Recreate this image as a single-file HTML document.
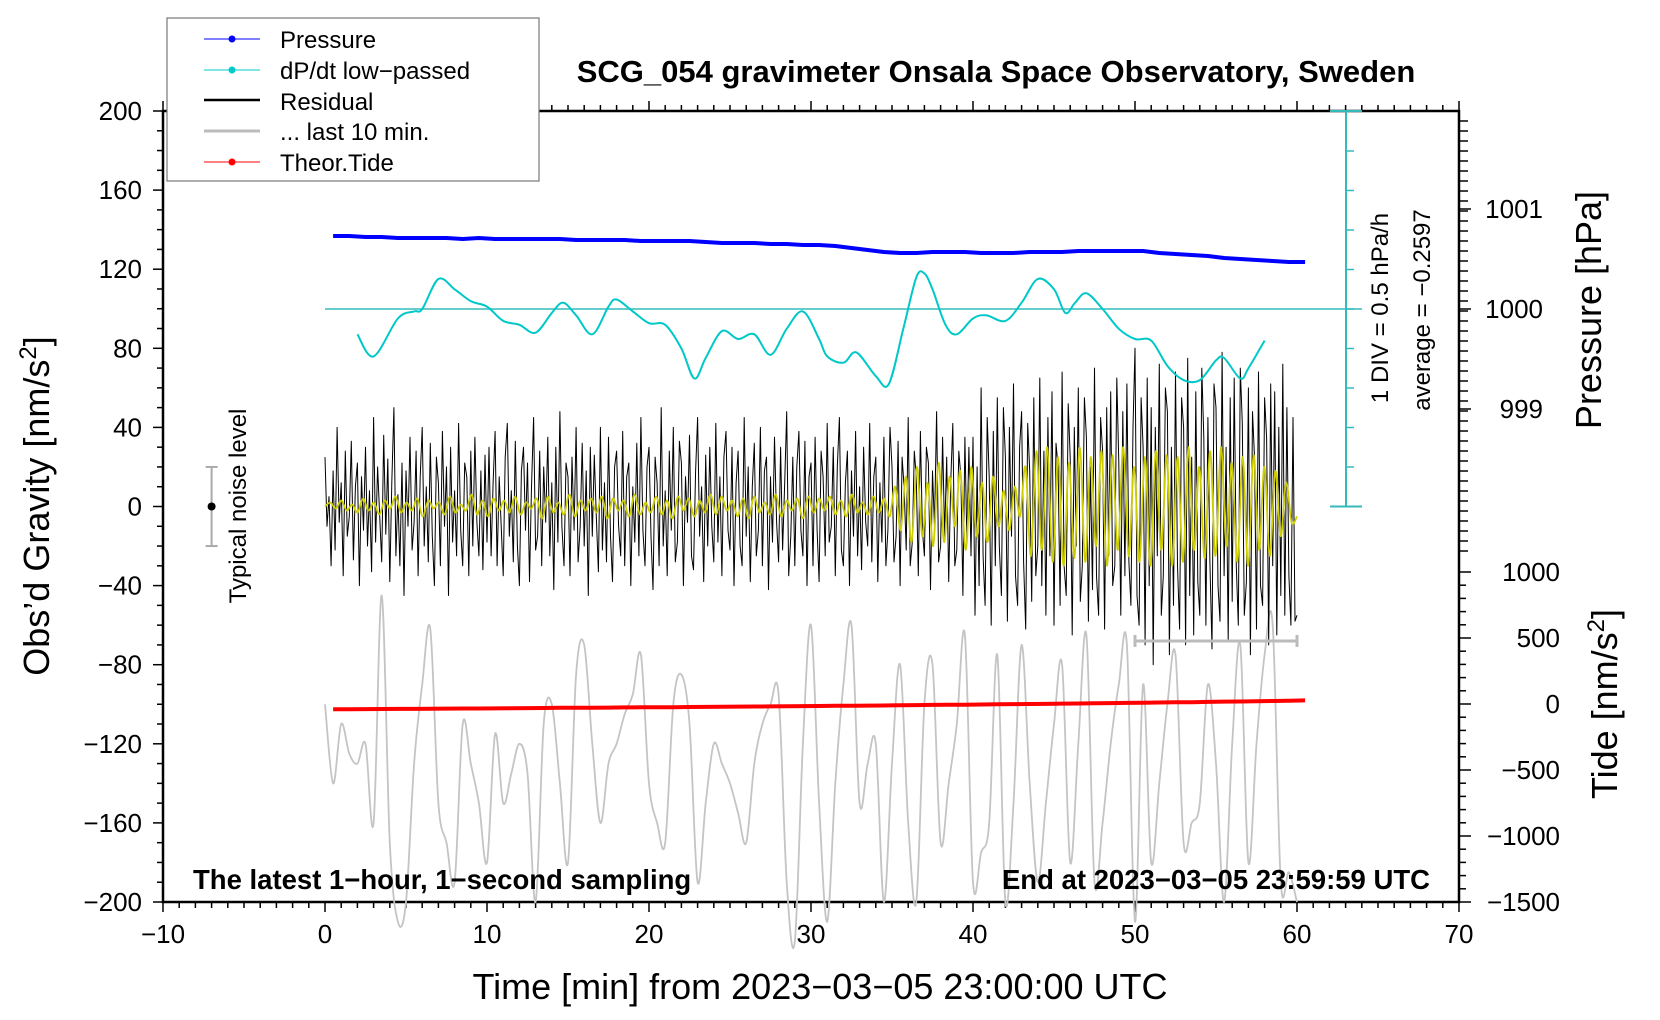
<!DOCTYPE html>
<html><head><meta charset="utf-8"><style>
body{margin:0;background:#fff;}
svg{display:block;font-family:"Liberation Sans",sans-serif;}
</style></head><body>
<svg id="chart" width="1660" height="1020" viewBox="0 0 1660 1020" xmlns="http://www.w3.org/2000/svg">
<g id="axes"></g>
<g id="series"></g>
<g id="labels">
<text x="996" y="82" font-size="31" font-weight="bold" text-anchor="middle">SCG_054 gravimeter Onsala Space Observatory, Sweden</text>
<text x="820" y="999" font-size="36" text-anchor="middle">Time [min] from 2023−03−05 23:00:00 UTC</text>
<text transform="translate(49,506) rotate(-90)" font-size="36" text-anchor="middle">Obs’d Gravity [nm/s<tspan baseline-shift="super" font-size="24">2</tspan>]</text>
<text transform="translate(1601,310) rotate(-90)" font-size="36" text-anchor="middle">Pressure [hPa]</text>
<text transform="translate(1617,704) rotate(-90)" font-size="36" text-anchor="middle">Tide [nm/s<tspan baseline-shift="super" font-size="24">2</tspan>]</text>
<text transform="translate(1388,308) rotate(-90)" font-size="24" text-anchor="middle">1 DIV = 0.5 hPa/h</text>
<text transform="translate(1430,310) rotate(-90)" font-size="24" text-anchor="middle">average = −0.2597</text>
<text transform="translate(246,506) rotate(-90)" font-size="24" text-anchor="middle">Typical noise level</text>
<text x="193" y="889" font-size="27.5" font-weight="bold">The latest 1−hour, 1−second sampling</text>
<text x="1430" y="889" font-size="27.5" font-weight="bold" text-anchor="end">End at 2023−03−05 23:59:59 UTC</text>
</g>
<g id="legend">
<rect x="167" y="18" width="372" height="163" fill="#fff" stroke="#777" stroke-width="1.2"/>
<g><line x1="204" y1="39" x2="260" y2="39" stroke="#00f" stroke-width="1"/><circle cx="232" cy="39" r="3.5" fill="#00f"/><text x="280" y="48" font-size="24">Pressure</text></g>
<g><line x1="204" y1="70" x2="260" y2="70" stroke="#00cccc" stroke-width="1"/><circle cx="232" cy="70" r="3.5" fill="#00cccc"/><text x="280" y="79" font-size="24">dP/dt low−passed</text></g>
<g><line x1="204" y1="100" x2="260" y2="100" stroke="#000" stroke-width="2.5"/><text x="280" y="110" font-size="24">Residual</text></g>
<g><line x1="204" y1="131" x2="260" y2="131" stroke="#bbb" stroke-width="3"/><text x="280" y="140" font-size="24">... last 10 min.</text></g>
<g><line x1="204" y1="162" x2="260" y2="162" stroke="#f00" stroke-width="1"/><circle cx="232" cy="162" r="3.5" fill="#f00"/><text x="280" y="171" font-size="24">Theor.Tide</text></g>
</g>
</svg>
<script>
// ---- data ----
const residual = [25,-10,5,-30,18,-22,40,-8,12,-35,28,-15,-5,33,-27,10,22,-40,15,-12,30,-20,8,-33,45,-18,20,-5,-28,36,-14,24,-38,12,50,-25,6,-30,22,-45,18,-10,35,-22,-8,28,-35,15,40,-20,10,-28,32,-15,-40,25,12,-30,38,-10,20,-45,30,-18,8,-25,42,-12,-30,22,15,-35,28,-20,35,-8,-25,18,-32,26,
-18,30,-25,12,38,-30,15,-10,-35,25,42,-15,8,-28,33,-20,-40,18,30,-12,22,-38,10,45,-22,-15,28,-30,20,-8,35,-25,12,-42,30,-18,48,-10,-30,22,15,-35,25,-12,40,-28,-10,32,-20,18,-45,30,-15,26,-5,-33,40,-22,12,-28,35,-15,-38,20,28,-10,-25,38,-30,15,22,-40,10,-18,32,-25,45,-12,-30,20,
30,-15,-42,25,12,-30,50,-20,8,-35,28,-12,40,-28,-18,33,22,-40,15,-8,36,-25,-32,18,45,-15,10,-38,26,-20,30,-10,-28,42,-18,15,-35,25,38,-12,-22,30,-40,12,28,-20,-30,45,-15,20,-38,10,32,-25,-12,40,-30,18,25,-42,15,-18,35,-8,-28,30,-22,12,48,-35,-15,25,-30,20,38,-12,-25,33,-40,15,
22,-30,35,-12,-38,28,15,-25,42,-18,-10,30,-35,20,45,-22,-30,12,28,-40,18,-15,38,-25,10,-32,30,-8,-20,42,-28,15,25,-38,12,-18,35,-30,-12,40,20,-28,-15,33,-40,25,10,-22,45,-30,-18,28,15,-35,38,-12,-25,30,22,-42,18,-10,48,-28,-20,35,-15,25,-38,12,42,-30,-22,28,15,-45,35,-18,30,-25,
35,-55,20,-40,60,-25,-50,45,15,-60,38,-30,55,-20,-45,50,25,-58,40,-15,62,-35,-50,30,48,-28,-62,42,18,-48,55,-35,-20,65,-40,28,-55,45,-25,58,-60,32,20,-50,68,-30,-45,52,25,-65,40,-20,60,-48,-30,55,35,-58,20,-42,70,-35,-55,45,28,-62,50,-25,58,-40,-30,65,22,-55,48,-35,62,-28,-50,40,
80,-45,-60,55,30,-70,65,-40,50,-80,40,-25,72,-55,-35,60,48,-75,30,-50,68,-30,-62,55,40,-70,75,-45,25,-65,58,-38,-55,70,35,-60,45,-28,-72,62,50,-40,-58,78,-35,30,-68,55,-48,65,-30,-60,70,42,-55,-38,60,-75,48,25,-62,68,-40,-50,55,35,-70,62,-30,58,-65,40,-45,72,-55,50,-35,-60,45,-58,-55];
const filtered = [0,2,-1,3,-2,1,-3,4,-2,2,-4,3,-1,5,-3,2,-2,4,-5,3,-1,2,-4,5,-3,1,-2,6,-4,3,-5,4,-2,3,-3,5,-4,2,-1,4,-6,5,-3,2,-4,6,-5,3,-2,4,-3,5,-6,4,-2,3,-5,6,-4,2,-3,5,-4,3,-6,5,-2,4,-5,3,-3,6,-4,5,-2,3,-5,4,-6,5,-3,2,-4,6,-5,3,-2,4,-6,5,-3,4,-2,5,-4,3,-5,6,-3,2,-4,5,-3,4,-5,
10,-12,15,-18,20,-15,12,-20,22,-18,15,-10,18,-22,20,-15,12,-18,15,-10,8,-12,10,-5,
20,-25,28,-22,30,-28,25,-30,22,-26,30,-28,25,-20,28,-30,26,-22,30,-25,20,-28,25,-30,28,-22,26,-30,25,-28,30,-22,20,-26,28,-25,30,-20,22,-28,25,-30,26,-22,20,-25,18,-15,12,-8,-5];
const last10 = [-100,-140,-110,-125,-130,-120,-160,-45,-170,-210,-200,-130,-90,-62,-150,-170,-190,-110,-130,-150,-180,-115,-150,-135,-120,-135,-200,-110,-100,-140,-180,-85,-70,-120,-160,-130,-120,-105,-95,-75,-140,-160,-170,-100,-85,-110,-190,-150,-120,-130,-140,-155,-170,-130,-110,-100,-95,-190,-220,-120,-60,-150,-210,-140,-90,-60,-150,-130,-120,-200,-130,-80,-160,-200,-100,-80,-170,-140,-110,-65,-190,-175,-160,-75,-200,-150,-70,-140,-190,-150,-110,-80,-180,-120,-65,-190,-160,-120,-90,-70,-210,-90,-180,-140,-100,-75,-170,-160,-150,-90,-130,-200,-120,-70,-180,-120,-75,-60,-190,-185,-200];
const pressureHPa = [1000.73,1000.73,1000.72,1000.72,1000.71,1000.71,1000.71,1000.71,1000.70,1000.71,1000.70,1000.70,1000.70,1000.70,1000.70,1000.69,1000.69,1000.69,1000.69,1000.68,1000.68,1000.68,1000.68,1000.67,1000.66,1000.66,1000.66,1000.65,1000.65,1000.64,1000.64,1000.63,1000.61,1000.59,1000.57,1000.56,1000.56,1000.57,1000.57,1000.57,1000.56,1000.56,1000.56,1000.57,1000.57,1000.57,1000.58,1000.58,1000.58,1000.58,1000.58,1000.56,1000.55,1000.54,1000.53,1000.51,1000.50,1000.49,1000.48,1000.47,1000.47];
const dpdtTimes = [2,3,4.5,5.5,6,7,8,9,10,11,12,13,14,14.7,15.5,16.5,17.5,18,19,20,21,22,22.8,23.5,24.5,25.5,26.5,27.5,28.5,29.5,30.5,31,32,32.8,34,34.8,35.7,36.5,37,37.5,38.3,39,40,40.8,42,43,44,45,45.7,46.3,47,48,49,50,51,52,53,54,55,55.5,56.5,57,58];
const dpdtValues = [-0.32,-0.6,-0.12,-0.03,0,0.38,0.25,0.1,0.03,-0.15,-0.2,-0.3,-0.05,0.08,-0.08,-0.32,0.03,0.12,-0.03,-0.18,-0.2,-0.5,-0.88,-0.62,-0.28,-0.38,-0.32,-0.58,-0.25,-0.03,-0.38,-0.6,-0.68,-0.55,-0.85,-0.95,-0.25,0.4,0.45,0.25,-0.2,-0.32,-0.12,-0.08,-0.15,0.08,0.38,0.25,-0.05,0.08,0.2,0,-0.25,-0.38,-0.4,-0.72,-0.9,-0.9,-0.65,-0.62,-0.88,-0.75,-0.4];
const tideNm = [-40,-40,-39,-38,-37,-37,-36,-35,-34,-34,-33,-32,-31,-30,-29,-29,-28,-27,-26,-25,-24,-24,-23,-22,-21,-20,-19,-18,-17,-16,-15,-14,-13,-12,-11,-10,-8,-7,-6,-5,-4,-2,-1,0,1,3,4,5,7,8,10,11,13,14,16,18,19,21,23,25,27];
const xTicks = [-10,0,10,20,30,40,50,60,70];
const yTicks = [-200,-160,-120,-80,-40,0,40,80,120,160,200];
const pTicks = [999,1000,1001];
const tideTicks = [-1500,-1000,-500,0,500,1000];

// ---- scales ----
const X0=163,X1=1459,Y0=111,Y1=902;
const xs=t=>X0+(t+10)/80*(X1-X0);
const ys=g=>Y1-(g+200)/400*(Y1-Y0);
const ps=p=>309-(p-1000)*100;
const ts=v=>704-v*0.132;
const ds=v=>ps(1000)-v/0.5*39.5;
const NS='http://www.w3.org/2000/svg';
function mk(tag,attrs,parent){const e=document.createElementNS(NS,tag);for(const k in attrs)e.setAttribute(k,attrs[k]);parent.appendChild(e);return e;}
const axes=document.getElementById('axes'),series=document.getElementById('series');

const fr=mk('rect',{x:X0,y:Y0,width:X1-X0,height:Y1-Y0,fill:'none',stroke:'#000','stroke-width':2.5},axes);


for(let t=-10;t<=70;t++){const maj=t%10===0;const L=maj?10:6;
 mk('line',{x1:xs(t),y1:Y1,x2:xs(t),y2:Y1+L,stroke:'#000','stroke-width':1.5},axes);
 mk('line',{x1:xs(t),y1:Y0,x2:xs(t),y2:Y0-L,stroke:'#000','stroke-width':1.5},axes);}
xTicks.forEach(t=>{const e=mk('text',{x:xs(t),y:Y1+41,'font-size':26,'text-anchor':'middle'},axes);e.textContent=String(t).replace('-','−');
 
 });
for(let g=-200;g<=200;g+=10){const maj=g%40===0;mk('line',{x1:X0,y1:ys(g),x2:X0-(maj?10:6),y2:ys(g),stroke:'#000','stroke-width':1.5},axes);}
yTicks.forEach(g=>{const e=mk('text',{x:X0-21,y:ys(g)+9,'font-size':26,'text-anchor':'end'},axes);e.textContent=String(g).replace('-','−');
 
 });
for(let y=Y0+10;y<=560;y+=10){mk('line',{x1:X1,y1:y,x2:X1+9,y2:y,stroke:'#000','stroke-width':1.5},axes);}
pTicks.forEach(p=>{mk('line',{x1:X1,y1:ps(p),x2:X1+12,y2:ps(p),stroke:'#000','stroke-width':1.5},axes);
 const e=mk('text',{x:1543,y:ps(p)+9,'font-size':26,'text-anchor':'end'},axes);e.textContent=p;
 
 });
for(let v=-1500;v<=1000;v+=100){mk('line',{x1:X1,y1:ts(v),x2:X1+(v%500===0?12:7),y2:ts(v),stroke:'#000','stroke-width':1.5},axes);}
tideTicks.forEach(v=>{const e=mk('text',{x:1560,y:ts(v)+9,'font-size':26,'text-anchor':'end'},axes);e.textContent=String(v).replace('-','−');
 
 });
const cy='#33bbbb';
mk('line',{x1:1346,y1:Y0,x2:1346,y2:ys(0),stroke:cy,'stroke-width':2},axes);
mk('line',{x1:1330,y1:Y0,x2:1362,y2:Y0,stroke:cy,'stroke-width':2},axes);
mk('line',{x1:1330,y1:ys(0),x2:1362,y2:ys(0),stroke:cy,'stroke-width':2},axes);
for(let k=1;k<10;k++){const y=ys(0)-k*39.5;mk('line',{x1:1346,y1:y,x2:1354,y2:y,stroke:cy,'stroke-width':1.5},axes);}
const zl=mk('line',{x1:xs(0),y1:ps(1000),x2:1362,y2:ps(1000),stroke:cy,'stroke-width':1.5},axes);



function pline(pts,attrs,name){const e=mk('polyline',Object.assign({points:pts.map(p=>p[0].toFixed(1)+','+p[1].toFixed(1)).join(' '),fill:'none','stroke-linejoin':'round'},attrs),series);
 
 return e;}
function spath(pts,attrs,name){let d='M'+pts[0][0].toFixed(1)+','+pts[0][1].toFixed(1);
 for(let i=0;i<pts.length-1;i++){const p0=pts[Math.max(0,i-1)],p1=pts[i],p2=pts[i+1],p3=pts[Math.min(pts.length-1,i+2)];
  const c1=[p1[0]+(p2[0]-p0[0])/6,p1[1]+(p2[1]-p0[1])/6],c2=[p2[0]-(p3[0]-p1[0])/6,p2[1]-(p3[1]-p1[1])/6];
  d+=' C'+c1.map(v=>v.toFixed(1))+' '+c2.map(v=>v.toFixed(1))+' '+p2.map(v=>v.toFixed(1));}
 const e=mk('path',Object.assign({d:d,fill:'none'},attrs),series);
 
 return e;}
spath(last10.map((v,i)=>[xs(i*60/(last10.length-1)),ys(v)]),{stroke:'#c4c4c4','stroke-width':1.8},'last-10-min-line');
pline(residual.map((v,i)=>[xs(i*60/(residual.length-1)),ys(v)]),{stroke:'#000','stroke-width':1},'residual-line');
spath(filtered.map((v,i)=>[xs(i*60/(filtered.length-1)),ys(v)]),{stroke:'#cccc00','stroke-width':1.8},'filtered-residual-line');
pline(pressureHPa.map((v,i)=>[xs(0.5+i),ps(v)]),{stroke:'#0000ff','stroke-width':4},'pressure-line');
spath(dpdtValues.map((v,i)=>[xs(dpdtTimes[i]),ds(v)]),{stroke:'#00c8c8','stroke-width':2},'dpdt-line');
pline(tideNm.map((v,i)=>[xs(0.5+i),ts(v)]),{stroke:'#ff0000','stroke-width':4},'tide-line');
const eb=mk('g',{stroke:'#bbb','stroke-width':3},series);


mk('line',{x1:xs(50),y1:ys(-68),x2:xs(60),y2:ys(-68)},eb);
mk('line',{x1:xs(50),y1:ys(-68)-6,x2:xs(50),y2:ys(-68)+6},eb);
mk('line',{x1:xs(60),y1:ys(-68)-6,x2:xs(60),y2:ys(-68)+6},eb);
const nb=mk('g',{stroke:'#aaa','stroke-width':2},series);


mk('line',{x1:xs(-7),y1:ys(20),x2:xs(-7),y2:ys(-20)},nb);
mk('line',{x1:xs(-7)-6,y1:ys(20),x2:xs(-7)+6,y2:ys(20)},nb);
mk('line',{x1:xs(-7)-6,y1:ys(-20),x2:xs(-7)+6,y2:ys(-20)},nb);
mk('circle',{cx:xs(-7),cy:ys(0),r:4,fill:'#000',stroke:'none'},nb);
</script>
</body></html>
